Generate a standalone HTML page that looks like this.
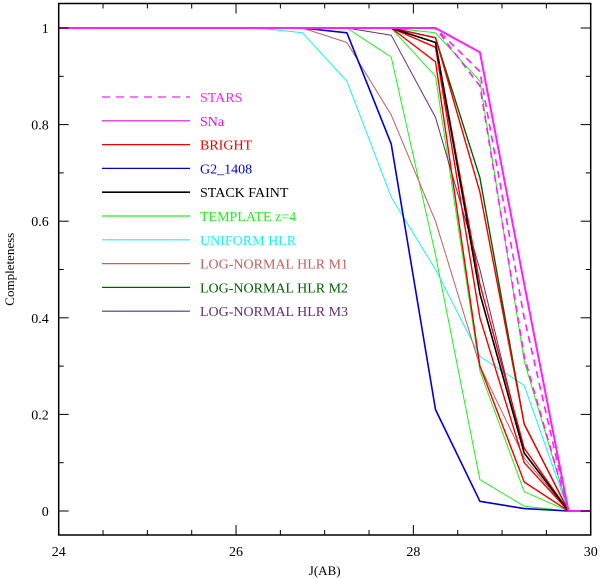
<!DOCTYPE html>
<html><head><meta charset="utf-8"><style>
html,body{margin:0;padding:0;background:#fff}
svg{display:block}
text{font-family:"Liberation Serif",serif}
</style></head><body>
<svg id="chart" width="600" height="578" xmlns="http://www.w3.org/2000/svg">
<g id="series"></g>
<g id="axes"></g>
<g id="legend"></g>
</svg>
<script>
const mags = [24, 26.25, 26.75, 27.25, 27.75, 28.25, 28.75, 29.25, 29.75, 30];
const starsA = [1, 1, 1, 1, 1, 1, 0.91, 0.40, 0, 0];
const starsB = [1, 1, 1, 1, 1, 1, 0.88, 0.32, 0, 0];
const sna = [1, 1, 1, 1, 1, 1, 0.95, 0.47, 0, 0];
const brightA = [1, 1, 1, 1, 1, 0.98, 0.66, 0.18, 0, 0];
const brightB = [1, 1, 1, 1, 1, 0.97, 0.47, 0.13, 0, 0];
const brightC = [1, 1, 1, 1, 1, 0.96, 0.40, 0.10, 0, 0];
const brightD = [1, 1, 1, 1, 1, 0.93, 0.30, 0.06, 0, 0];
const g2 = [1, 1, 1, 0.99, 0.76, 0.21, 0.02, 0.005, 0, 0];
const stackFaint = [1, 1, 1, 1, 1, 0.97, 0.45, 0.12, 0, 0];
const templateA = [1, 1, 1, 1, 0.94, 0.53, 0.065, 0.01, 0, 0];
const templateB = [1, 1, 1, 1, 1, 0.90, 0.29, 0.04, 0, 0];
const templateC = [1, 1, 1, 1, 1, 0.99, 0.89, 0.31, 0, 0];
const uniform = [1, 1, 0.99, 0.89, 0.65, 0.50, 0.32, 0.26, 0, 0];
const logM1 = [1, 1, 1, 0.97, 0.82, 0.60, 0.30, 0.11, 0, 0];
const logM2 = [1, 1, 1, 1, 1, 0.98, 0.69, 0.18, 0, 0];
const logM3 = [1, 1, 1, 1, 0.985, 0.815, 0.50, 0.12, 0, 0];
const xTicks = [24, 26, 28, 30];
const yTicks = [0, 0.2, 0.4, 0.6, 0.8, 1];
const legendLabels = ["STARS","SNa","BRIGHT","G2_1408","STACK FAINT","TEMPLATE z=4","UNIFORM HLR","LOG-NORMAL HLR M1","LOG-NORMAL HLR M2","LOG-NORMAL HLR M3"];
const legendColors = ["#ff20ff","#e010e0","#f00000","#0000d0","#000000","#20f020","#20f0f0","#c06060","#006000","#603070"];

const NS="http://www.w3.org/2000/svg";
const X0=58.7, X1=590.7, Y0=511, YT=28, TOP=3.5, BOT=535;
const xs = v => X0 + (v-24)/(30-24)*(X1-X0);
const ys = v => Y0 - v*(Y0-YT);
function mk(tag, attrs, parent){const e=document.createElementNS(NS,tag);for(const k in attrs)e.setAttribute(k,attrs[k]);parent.appendChild(e);return e;}

const series=[
 [templateC,"#20f020",1,null,"template-c"],
 [templateB,"#20f020",1,null,"template-b"],
 [templateA,"#20f020",1,null,"template-a"],
 [uniform,"#20f0f0",1,null,"uniform-hlr"],
 [logM1,"#c06060",1,null,"log-normal-m1"],
 [logM3,"#603070",1,null,"log-normal-m3"],
 [logM2,"#006000",1.4,null,"log-normal-m2"],
 [g2,"#0000d0",1.6,null,"g2-1408"],
 [brightA,"#f00000",1.4,null,"bright-a"],
 [brightB,"#f00000",1.4,null,"bright-b"],
 [brightC,"#f00000",1.4,null,"bright-c"],
 [brightD,"#f00000",1.4,null,"bright-d"],
 [stackFaint,"#000000",1.6,null,"stack-faint"],
 [starsA,"#ff20ff",1.6,"7,5","stars-a"],
 [starsB,"#ff20ff",1.6,"7,5","stars-b"],
 [sna,"#ff20ff",2,null,"sna"]
];
const sg=document.getElementById("series");
series.forEach(s=>{
  const pts=mags.map((m,i)=>xs(m).toFixed(1)+","+ys(s[0][i]).toFixed(1)).join(" ");
  const a={points:pts,fill:"none",stroke:s[1],"stroke-width":s[2],"stroke-linejoin":"round"};
  if(s[3])a["stroke-dasharray"]=s[3];
  const p=mk("polyline",a,sg);
  
  
});

const ax=document.getElementById("axes");
const box=mk("rect",{x:X0,y:TOP,width:X1-X0,height:BOT-TOP,fill:"none",stroke:"#000","stroke-width":1.5},ax);


for(let v=24;v<=30.001;v+=0.5){
  const x=xs(v), major=Math.abs(v-Math.round(v/2)*2)<1e-6, L=major?10:5;
  mk("line",{x1:x,x2:x,y1:BOT,y2:BOT-L,stroke:"#000","stroke-width":1},ax);
  mk("line",{x1:x,x2:x,y1:TOP,y2:TOP+L,stroke:"#000","stroke-width":1},ax);
}
for(let i=0;i<=10;i++){
  const v=i/10, y=ys(v), L=(i%2==0)?10:5;
  mk("line",{x1:X0,x2:X0+L,y1:y,y2:y,stroke:"#000","stroke-width":1},ax);
  mk("line",{x1:X1,x2:X1-L,y1:y,y2:y,stroke:"#000","stroke-width":1},ax);
}
xTicks.forEach(v=>{
  const t=mk("text",{x:xs(v),y:556,"text-anchor":"middle","font-size":14},ax);
  t.textContent=v;
  
  
});
yTicks.forEach(v=>{
  const t=mk("text",{x:X0-10,y:ys(v)+5,"text-anchor":"end","font-size":14},ax);
  t.textContent=v;
  
  
});
const xt=mk("text",{x:(X0+X1)/2,y:575,"text-anchor":"middle","font-size":13},ax);
xt.textContent="J(AB)";


const yt=mk("text",{x:0,y:0,"text-anchor":"middle","font-size":13,transform:"translate(14,"+((TOP+BOT)/2)+") rotate(-90)"},ax);
yt.textContent="Completeness";



const lg=document.getElementById("legend");
legendLabels.forEach((lab,i)=>{
  const y=97+i*23.8;
  const g=mk("g",{},lg);
  
  
  const a={x1:102,x2:190,y1:y,y2:y,stroke:legendColors[i],"stroke-width":i==4?1.6:1.2};
  if(i==0)a["stroke-dasharray"]="8,6";
  mk("line",a,g);
  const t=mk("text",{x:200,y:y+5,"font-size":14,fill:legendColors[i]},g);
  t.textContent=lab;
});
</script>
</body></html>
